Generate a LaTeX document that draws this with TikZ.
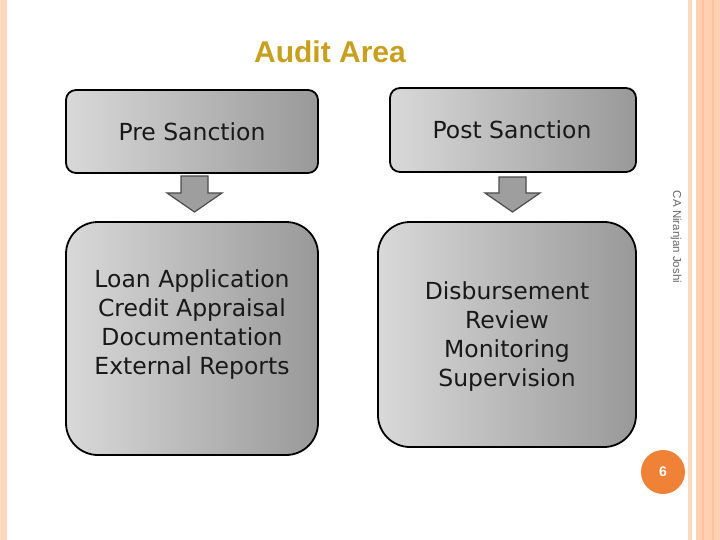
\documentclass[tikz,border=0pt]{standalone}
\usepackage{fontspec}
\setmainfont{DejaVu Sans}
\newfontfamily\arialf{Liberation Sans}
\begin{document}
\begin{tikzpicture}[x=1pt,y=-1pt,
  box/.style={draw=black,line width=1.8pt,left color=black!15,right color=black!40},
  arr/.style={draw=black!70,line width=1.2pt,fill=black!38},
  lbl/.style={font=\fontsize{23.5}{29}\selectfont,align=center,text=black!90}]
\useasboundingbox (0,0) rectangle (720,540);
\fill[white] (0,0) rectangle (720,540);
\fill[fill=red!20!orange!25] (0,0) rectangle (7,540);
\fill[fill=red!20!orange!25] (688,0) rectangle (692,540);
\fill[fill=red!20!orange!30] (696,0) rectangle (720,540);
\fill[fill=red!25!orange!40] (702,0) rectangle (704,540);
\fill[fill=red!25!orange!40] (712,0) rectangle (714,540);
\node[font=\arialf\bfseries\fontsize{30}{34}\selectfont,text={rgb,255:red,200;green,160;blue,30}] (title) at (330,52) {Audit Area};
\draw[box,rounded corners=10pt] (66,90) rectangle (318,173);
\node[lbl] (pre) at (192,132) {Pre Sanction};
\draw[box,rounded corners=10pt] (390,88) rectangle (636,172);
\node[lbl] (post) at (512,130) {Post Sanction};
\draw[box,rounded corners=32pt] (66,222) rectangle (318,455);
\node[lbl] (l) at (192,325) {Loan Application\\Credit Appraisal\\Documentation\\External Reports};
\draw[box,rounded corners=32pt] (378,222) rectangle (636,447);
\node[lbl] (r) at (507,337) {Disbursement\\Review\\Monitoring\\Supervision};
\draw[arr] (181,176) -- (208,176) -- (208,193) -- (222,193) -- (194.5,212) -- (167,193) -- (181,193) -- cycle;
\draw[arr] (499,177) -- (526,177) -- (526,193) -- (540,193) -- (512.5,212) -- (485,193) -- (499,193) -- cycle;
\node[rotate=-90,font=\arialf\fontsize{11.5}{13}\selectfont,text=black!60] (author) at (676,237) {CA Niranjan Joshi};
\node[circle,fill={rgb,255:red,240;green,130;blue,55},minimum size=44pt,inner sep=0,text=white,font=\arialf\bfseries\fontsize{14}{16}\selectfont] (pg) at (663,472) {6};
\end{tikzpicture}
\end{document}
